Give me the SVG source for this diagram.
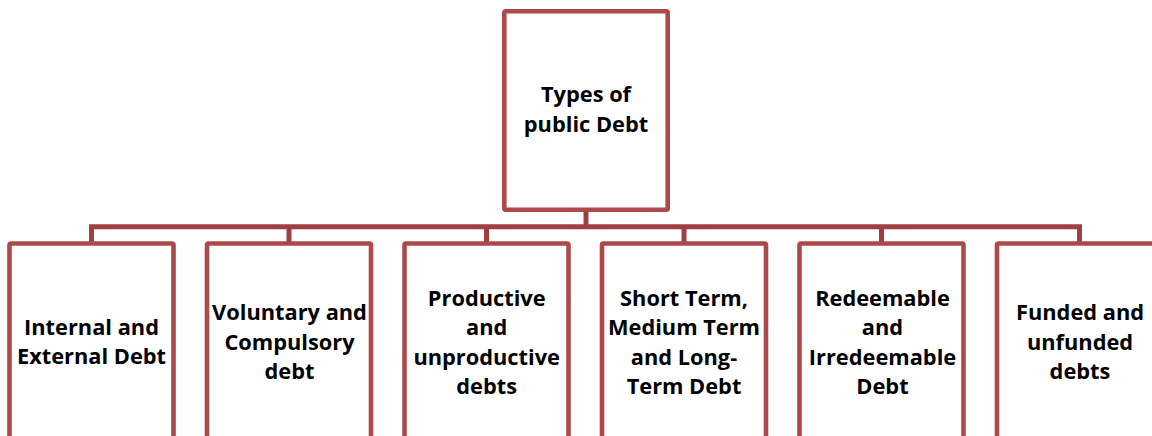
<svg xmlns="http://www.w3.org/2000/svg" width="1152" height="436" viewBox="0 0 1152 436">
  <style>
    .box { fill: #ffffff; stroke: #AE4949; stroke-width: 4.6; }
    .conn { fill: none; stroke: #A03F3F; stroke-width: 5; stroke-linejoin: miter; }
    .lbl { font-family: "Open Sans", Lato, "Liberation Sans", sans-serif; font-weight: bold; font-size: 21.8px; fill: #000000; text-anchor: middle; }
  </style>
  <rect width="1152" height="436" fill="#ffffff"/>
  <g id="connectors">
    <path class="conn" d="M586,209.7 V226.7"/>
    <path class="conn" d="M91.5,243 V226.7 H1079.5 V243"/>
    <path class="conn" d="M289,226.7 V243 M486.5,226.7 V243 M684,226.7 V243 M881.5,226.7 V243"/>
  </g>
  <g id="root">
    <rect class="box" x="504.3" y="11.3" width="163.4" height="198.4" rx="1.5"/>
    <text class="lbl" x="586" y="101.5">Types of</text>
    <text class="lbl" x="586" y="131.5">public Debt</text>
  </g>
  <g id="internal-external">
    <rect class="box" x="9.5" y="243.5" width="164" height="210" rx="1.5"/>
    <text class="lbl" x="91.5" y="335">Internal and</text>
    <text class="lbl" x="91.5" y="364.3">External Debt</text>
  </g>
  <g id="voluntary-compulsory">
    <rect class="box" x="207" y="243.5" width="164" height="210" rx="1.5"/>
    <text class="lbl" x="289.5" y="320">Voluntary and</text>
    <text class="lbl" x="289.5" y="349.5">Compulsory</text>
    <text class="lbl" x="289.5" y="379">debt</text>
  </g>
  <g id="productive-unproductive">
    <rect class="box" x="404.5" y="243.5" width="164" height="210" rx="1.5"/>
    <text class="lbl" x="486.7" y="306">Productive</text>
    <text class="lbl" x="486.7" y="335.3">and</text>
    <text class="lbl" x="486.7" y="364.6">unproductive</text>
    <text class="lbl" x="486.7" y="393.6">debts</text>
  </g>
  <g id="short-medium-long">
    <rect class="box" x="602" y="243.5" width="164" height="210" rx="1.5"/>
    <text class="lbl" x="684" y="306">Short Term,</text>
    <text class="lbl" x="684" y="335.3">Medium Term</text>
    <text class="lbl" x="684" y="364.6">and Long-</text>
    <text class="lbl" x="684" y="393.6">Term Debt</text>
  </g>
  <g id="redeemable-irredeemable">
    <rect class="box" x="799.5" y="243.5" width="164" height="210" rx="1.5"/>
    <text class="lbl" x="882.5" y="306">Redeemable</text>
    <text class="lbl" x="882.5" y="335.3">and</text>
    <text class="lbl" x="882.5" y="364.6">Irredeemable</text>
    <text class="lbl" x="882.5" y="393.6">Debt</text>
  </g>
  <g id="funded-unfunded">
    <rect class="box" x="997" y="243.5" width="164" height="210" rx="1.5"/>
    <text class="lbl" x="1080" y="320">Funded and</text>
    <text class="lbl" x="1080" y="349.5">unfunded</text>
    <text class="lbl" x="1080" y="379">debts</text>
  </g>
</svg>
